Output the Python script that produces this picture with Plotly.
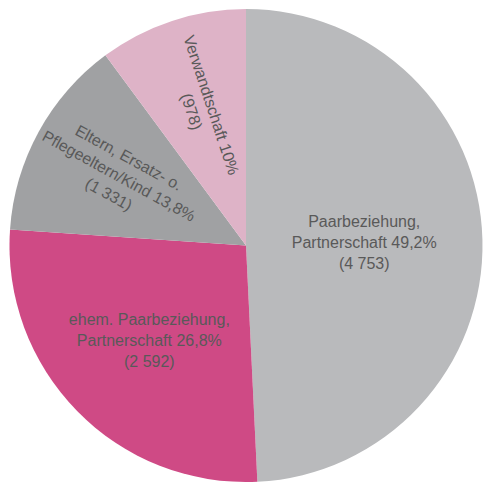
import math
import plotly.graph_objects as go

labels = ["Paarbeziehung, Partnerschaft", "ehem. Paarbeziehung, Partnerschaft",
          "Eltern, Ersatz- o. Pflegeeltern/Kind", "Verwandtschaft"]
values = [4753, 2592, 1331, 978]
pct_text = ["49,2%", "26,8%", "13,8%", "10%"]
count_text = ["4 753", "2 592", "1 331", "978"]
colors = ["#b9babc", "#cf4a85", "#a0a1a3", "#deb3c7"]

line_texts = [
    "Paarbeziehung,<br>Partnerschaft " + pct_text[0] + "<br>(" + count_text[0] + ")",
    "ehem. Paarbeziehung,<br>Partnerschaft " + pct_text[1] + "<br>(" + count_text[1] + ")",
    "Eltern, Ersatz- o.<br>Pflegeeltern/Kind " + pct_text[2] + "<br>(" + count_text[2] + ")",
    "Verwandtschaft " + pct_text[3] + "<br>(" + count_text[3] + ")",
]
radial_slices = [2, 3]

horiz = ["" if i in radial_slices else t for i, t in enumerate(line_texts)]

font = dict(family="Liberation Sans, Arial, sans-serif", size=16, color="#595959")

W, H = 490, 482
M = dict(l=9, r=7, t=9, b=0)
pw, ph = W - M["l"] - M["r"], H - M["t"] - M["b"]
R = min(pw, ph) / 2.0

fig = go.Figure()
fig.add_trace(go.Pie(
    labels=labels, values=values, sort=False, direction="clockwise", rotation=0,
    marker=dict(colors=colors, line=dict(width=0)),
    text=horiz, texttemplate="%{text}", textinfo="text", textposition="inside",
    insidetextorientation="horizontal", insidetextfont=font, showlegend=False,
))

# radial labels for the two small slices, placed at each slice's mid angle
total = float(sum(values))
cum = 0.0
for i, v in enumerate(values):
    start = cum
    cum += v
    if i not in radial_slices:
        continue
    mid_frac = (start + v / 2.0) / total
    theta = 90.0 - 360.0 * mid_frac  # math angle, clockwise from 12 o'clock
    th = math.radians(theta)
    rr = 0.61 * R
    dx, dy = rr * math.cos(th), rr * math.sin(th)
    ang = (180.0 - theta) % 360.0
    if ang > 180:
        ang -= 360
    fig.add_annotation(
        x=0.5 + dx / pw, y=0.5 + dy / ph, xref="paper", yref="paper",
        text=line_texts[i], showarrow=False, textangle=ang,
        font=font, align="center", xanchor="center", yanchor="middle",
    )

fig.update_layout(
    width=W, height=H,
    margin=M,
    paper_bgcolor="white", plot_bgcolor="white",
    showlegend=False,
)
fig.write_html("out.html")
